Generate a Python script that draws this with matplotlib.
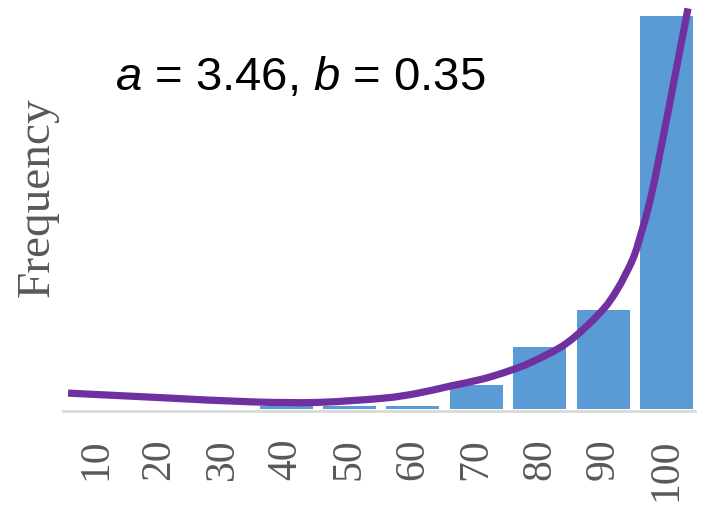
import matplotlib
matplotlib.use("Agg")
import matplotlib.pyplot as plt
from matplotlib.patches import PathPatch
from matplotlib.path import Path

# Histogram of scores (bin upper edges) with the fitted density overlaid.
bins = [10, 20, 30, 40, 50, 60, 70, 80, 90, 100]
counts = [0, 0, 0, 1, 1, 1, 8, 20.5, 33, 131]

# Fitted curve, sampled along the score axis (same units as the counts).
fit_x = [5.6, 20.1, 34.3, 44.9, 55.3, 60.6, 65.8, 71.0, 75.3, 78.9,
         84.3, 89.5, 92.2, 94.7, 96.0, 97.0, 98.0, 99.0, 100.6, 102.0, 103.4]
fit_y = [5.3, 3.8, 2.4, 2.2, 3.6, 5.2, 7.6, 10.0, 12.8, 15.8,
         22.0, 32.0, 39.7, 50.0, 58.5, 66.0, 75.0, 85.5, 102.8, 118.2, 133.5]

fit_label = r"$\mathit{a}$ = 3.46, $\mathit{b}$ = 0.35"

BAR_COLOR = "#5B9BD5"
CURVE_COLOR = "#7030A0"
GREY = "#595959"


def smooth_path(xs, ys):
    """Catmull-Rom style smoothed line through the points, as cubic Beziers."""
    pts = list(zip(xs, ys))
    verts = [pts[0]]
    codes = [Path.MOVETO]
    n = len(pts)
    for i in range(n - 1):
        p0 = pts[i - 1] if i > 0 else pts[i]
        p1, p2 = pts[i], pts[i + 1]
        p3 = pts[i + 2] if i + 2 < n else pts[i + 1]
        c1 = (p1[0] + (p2[0] - p0[0]) / 6, p1[1] + (p2[1] - p0[1]) / 6)
        c2 = (p2[0] - (p3[0] - p1[0]) / 6, p2[1] - (p3[1] - p1[1]) / 6)
        verts += [c1, c2, p2]
        codes += [Path.CURVE4] * 3
    return Path(verts, codes)


plt.rcParams["mathtext.fontset"] = "custom"
plt.rcParams["mathtext.rm"] = "Liberation Sans"
plt.rcParams["mathtext.it"] = "Liberation Sans:italic"

fig = plt.figure(figsize=(7.02, 5.09), dpi=100)
ax = fig.add_axes([0.0897, 0.1935, 0.9003, 0.8065])

ax.bar(bins, counts, width=8.36, color=BAR_COLOR, zorder=2)
ax.add_patch(PathPatch(smooth_path(fit_x, fit_y), fill=False, edgecolor=CURVE_COLOR,
                       linewidth=5.2, capstyle="butt", joinstyle="round", zorder=3))

ax.set_xlim(4.8, 104.5)
ax.set_ylim(-0.5, 136.3)

for side in ("top", "right", "left"):
    ax.spines[side].set_visible(False)
ax.spines["bottom"].set_color("#d9d9d9")
ax.spines["bottom"].set_linewidth(2)

ax.set_yticks([])
ax.set_xticks(bins)
ax.set_xticklabels([str(b) for b in bins], rotation=90, family="Liberation Serif",
                   fontsize=30, color=GREY)
ax.tick_params(axis="x", length=0, pad=20)

fig.text(0.053, 0.613, "Frequency", rotation=90, ha="center", va="center",
         family="Liberation Serif", fontsize=34, color=GREY)
fig.text(0.164, 0.823, fit_label, ha="left", va="baseline",
         family="Liberation Sans", fontsize=34, color="black")

fig.savefig("out.png", dpi=100)
